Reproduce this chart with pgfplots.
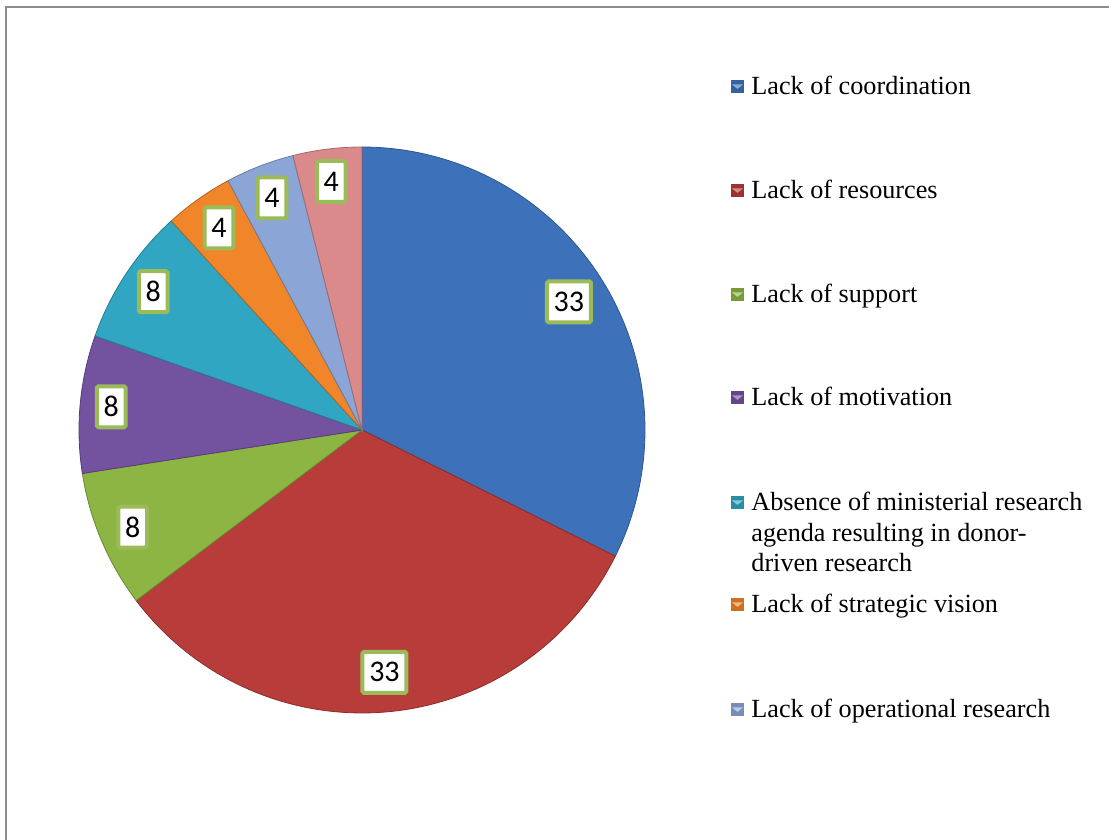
\documentclass[border=0pt]{standalone}
\usepackage{pgfplots}
\pgfplotsset{compat=1.18}
\usepackage{fontspec}
\setmainfont{Liberation Serif}
\newfontfamily\carlito{Carlito}

\definecolor{c1}{RGB}{61,114,186}
\definecolor{c2}{RGB}{184,60,58}
\definecolor{c3}{RGB}{141,181,67}
\definecolor{c4}{RGB}{115,82,160}
\definecolor{c5}{RGB}{48,166,194}
\definecolor{c6}{RGB}{240,133,42}
\definecolor{c7}{RGB}{139,166,214}
\definecolor{c8}{RGB}{219,138,140}
\definecolor{lblgreen}{RGB}{155,187,89}
\definecolor{framegray}{RGB}{140,140,140}

% px -> pt : 1px = 0.5pt, y measured from top of a 840px high image
\newcommand{\px}[2]{({#1*0.5pt},{(840-#2)*0.5pt})}

\tikzset{lbl/.style={draw=lblgreen, line width=2pt, fill=white, rounded corners=0.8pt,
  inner xsep=3.4pt, inner ysep=0pt, minimum height=20.5pt, font=\carlito\fontsize{15}{17}\selectfont}}

\begin{document}
\begin{tikzpicture}
\useasboundingbox (0,0) rectangle (554.5pt,420pt);
% frame
\draw[framegray, line width=1pt] \px{6}{840} -- \px{6}{7} -- \px{1109}{7};

\begin{axis}[
  at={(181pt,205pt)}, anchor=center,
  width=283pt, height=283pt, scale only axis,
  xmin=-1, xmax=1, ymin=-1, ymax=1,
  hide axis, clip=false]
\def\cum{90}
\foreach \v/\c/\r [count=\i] in {33/c1/0.86, 33/c2/0.86, 8/c3/0.88, 8/c4/0.89, 8/c5/0.885, 4/c6/0.875, 4/c7/0.88, 4/c8/0.885} {
  \pgfmathsetmacro\s{\cum}
  \pgfmathsetmacro\e{\cum - \v/102*360}
  \pgfmathsetmacro\m{(\s+\e)/2}
  \pgfmathsetmacro\lx{\r*cos(\m)}
  \pgfmathsetmacro\ly{\r*sin(\m)}
  \edef\temp{\noexpand\addplot[fill=\c, draw=\c!75!black, line width=0.4pt, domain=\e:\s, samples=80, variable=\noexpand\t]
     ({cos(\noexpand\t)},{sin(\noexpand\t)}) -- (axis cs:0,0) -- cycle;
     \noexpand\node[lbl] at (axis cs:\lx,\ly) {\v};}
  \temp
  \xdef\cum{\e}
}
\end{axis}

% legend
\newcommand{\legitem}[2]{%
  \fill[#1!85!black] ({731*0.5pt},{(840-#2)*0.5pt-3.25pt}) rectangle ++(6.5pt,6.5pt);
  \fill[#1!60!white] ({732*0.5pt},{(840-#2)*0.5pt+1.25pt}) -- ++(5.5pt,0) -- ++(-2.75pt,-2.2pt) -- cycle;}
\tikzset{legtext/.style={anchor=base west, inner sep=0pt, font=\fontsize{13.1}{15.5}\selectfont}}
\legitem{c1}{87}  \node[legtext] at \px{751}{95} {Lack of coordination};
\legitem{c2}{191} \node[legtext] at \px{751}{199} {Lack of resources};
\legitem{c3}{295} \node[legtext] at \px{751}{303} {Lack of support};
\legitem{c4}{398} \node[legtext] at \px{751}{406} {Lack of motivation};
\legitem{c5}{503} \node[legtext] at \px{751}{511} {Absence of ministerial research};
\node[legtext] at \px{751}{542} {agenda resulting in donor-};
\node[legtext] at \px{751}{572} {driven research};
\legitem{c6}{605} \node[legtext] at \px{751}{613} {Lack of strategic vision};
\legitem{c7}{710} \node[legtext] at \px{751}{718} {Lack of operational research};
\end{tikzpicture}
\end{document}
